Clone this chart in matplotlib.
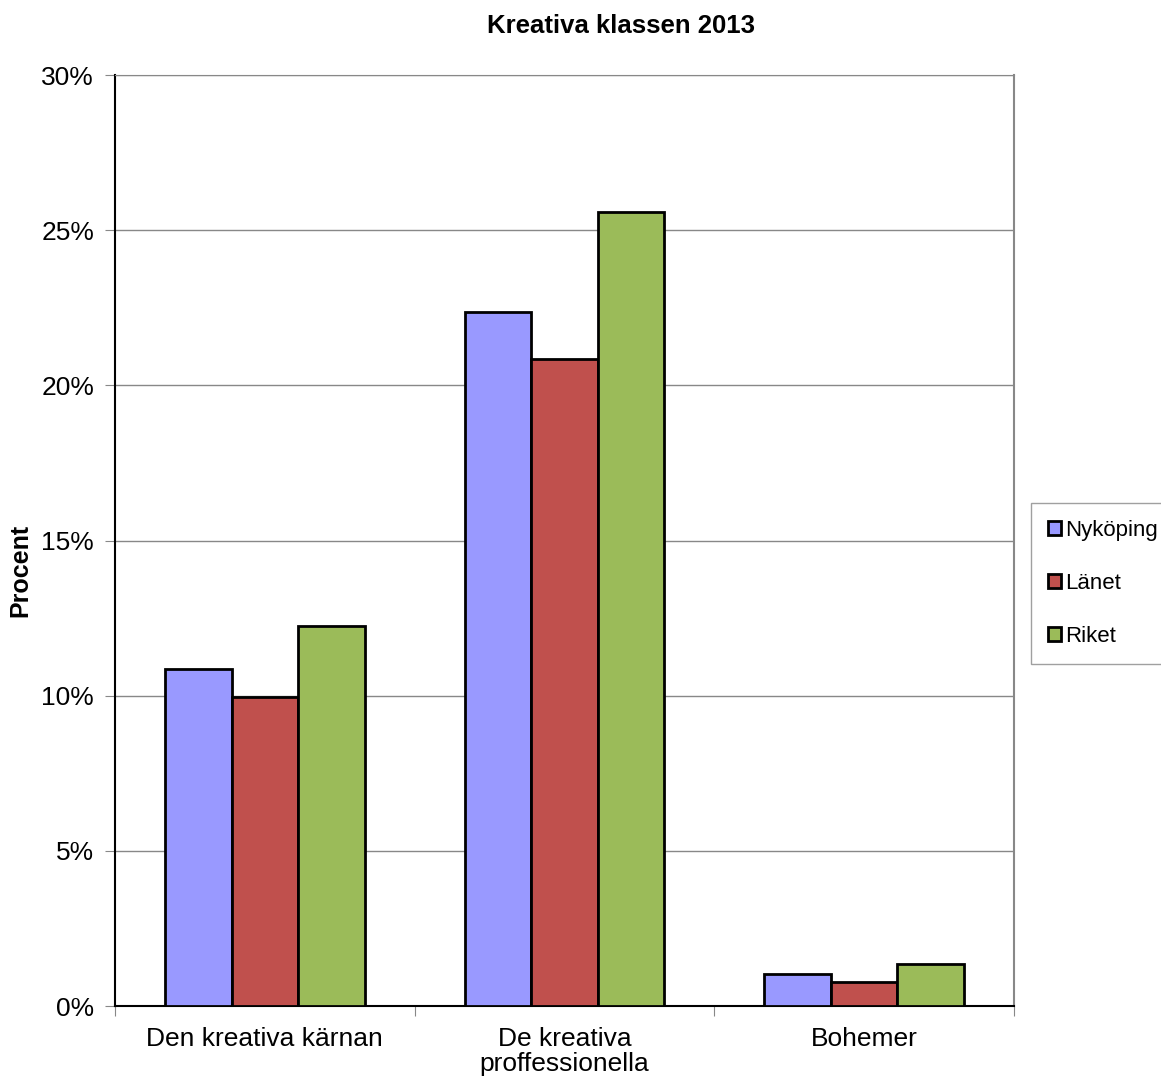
import matplotlib
matplotlib.use('agg')
import matplotlib.pyplot as plt
import numpy as np

plt.rcParams['font.family'] = ['Liberation Sans', 'DejaVu Sans']

categories = ['Den kreativa kärnan', 'De kreativa\nproffessionella', 'Bohemer']
series = ['Nyköping', 'Länet', 'Riket']
nykoping = [10.86, 22.37, 1.03]
lanet = [9.96, 20.85, 0.77]
riket = [12.25, 25.59, 1.35]
colors = ['#9999ff', '#c0504d', '#9bbb59']

W, H = 1161, 1077
fig = plt.figure(figsize=(W / 100, H / 100), dpi=100)
ax = fig.add_axes([115 / W, 1 - 1006 / H, 899 / W, 931 / H])

x = np.arange(len(categories))
w = 0.222
for i, (vals, name, c) in enumerate(zip([nykoping, lanet, riket], series, colors)):
    ax.bar(x + (i - 1) * w, vals, w, color=c, edgecolor='black', linewidth=2,
           label=name, zorder=3)

ax.set_xlim(-0.5, 2.5)
ax.set_ylim(0, 30)
ax.set_yticks(range(0, 31, 5))
ax.set_yticklabels(['%d%%' % v for v in range(0, 31, 5)], fontsize=19)
ax.yaxis.grid(True, color='#888888', linewidth=1)
ax.set_axisbelow(True)

ax.set_xticks([-0.5, 0.5, 1.5, 2.5])
ax.set_xticklabels([])
ax.set_xticks(x, minor=True)
ax.set_xticklabels(categories, minor=True, fontsize=19, linespacing=1.05)
ax.tick_params(axis='x', which='minor', length=0, pad=15)
ax.tick_params(axis='x', which='major', length=7, color='#888888')
ax.tick_params(axis='y', length=7, color='#888888', pad=8)

ax.spines['top'].set_color('#888888')
ax.spines['right'].set_color('#888888')
ax.spines['right'].set_linewidth(1.5)
ax.spines['left'].set_linewidth(1.5)
ax.spines['bottom'].set_linewidth(1.5)

fig.text(20 / W, 1 - 570 / H, 'Procent', fontsize=18, fontweight='bold',
         rotation=90, ha='center', va='center')
fig.text(621 / W, 1 - 26 / H, 'Kreativa klassen 2013', fontsize=18.5,
         fontweight='bold', ha='center', va='center')

handles, labels = ax.get_legend_handles_labels()
leg = fig.legend(handles, labels, loc='upper left',
                 bbox_to_anchor=(1031 / W, 1 - 503 / H), fontsize=16,
                 frameon=True, fancybox=False, edgecolor='#888888',
                 handlelength=0.6, handleheight=0.6, handletextpad=0.2,
                 labelspacing=1.45, borderpad=0.75, borderaxespad=0)
leg.get_frame().set_linewidth(1)

fig.savefig('out.png', dpi=100)
plt.close()
